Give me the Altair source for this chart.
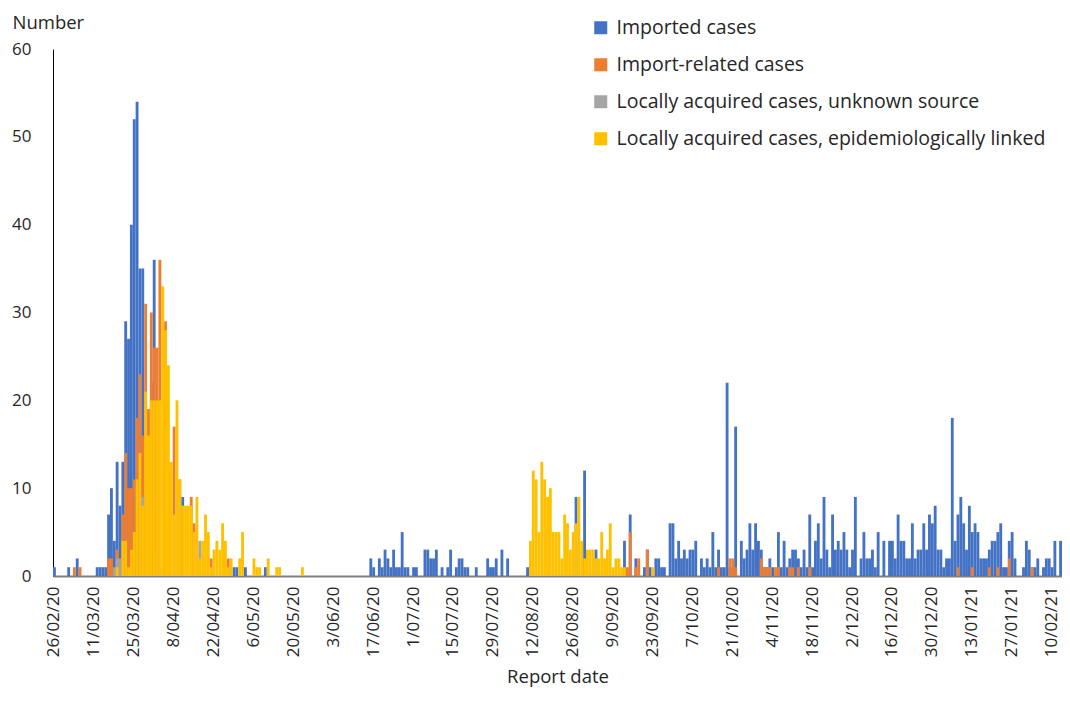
import datetime as dt
import altair as alt
import pandas as pd

# ---------------- data (daily counts, 26/02/20 .. 13/02/21) ----------------
START = dt.date(2020, 2, 26)

SERIES = [
    "Imported cases",
    "Import-related cases",
    "Locally acquired cases, unknown source",
    "Locally acquired cases, epidemiologically linked",
]
COLORS = ["#4472C4", "#ED7D31", "#A5A5A5", "#FFC000"]

TICK_LABELS = [
    "26/02/20", "11/03/20", "25/03/20", "8/04/20", "22/04/20", "6/05/20",
    "20/05/20", "3/06/20", "17/06/20", "1/07/20", "15/07/20", "29/07/20",
    "12/08/20", "26/08/20", "9/09/20", "23/09/20", "7/10/20", "21/10/20",
    "4/11/20", "18/11/20", "2/12/20", "16/12/20", "30/12/20", "13/01/21",
    "27/01/21", "10/02/21",
]

# one row per fortnight (14 days), last row 4 days
IMPORTED = [
    [1, 0, 0, 0, 0, 1, 0, 0, 2, 0, 0, 0, 0, 0],
    [0, 1, 1, 1, 1, 7, 10, 4, 13, 8, 13, 29, 27, 40],
    [52, 54, 35, 35, 0, 0, 22, 36, 0, 0, 0, 0, 0, 0],
    [0, 0, 0, 9, 0, 0, 0, 0, 0, 0, 0, 0, 0, 0],
    [0, 0, 0, 0, 0, 0, 0, 1, 1, 0, 0, 1, 0, 0],
    [0, 0, 0, 0, 1, 0, 0, 0, 0, 0, 0, 0, 0, 0],
    [0, 0, 0, 0, 0, 0, 0, 0, 0, 0, 0, 0, 0, 0],
    [0, 0, 0, 0, 0, 0, 0, 0, 0, 0, 0, 0, 0, 2],
    [1, 0, 2, 1, 3, 2, 1, 3, 1, 1, 5, 1, 1, 0],
    [1, 1, 0, 0, 3, 3, 2, 2, 3, 0, 1, 0, 1, 3],
    [0, 1, 2, 2, 1, 1, 0, 0, 1, 0, 0, 0, 2, 1],
    [1, 2, 0, 3, 0, 2, 0, 0, 0, 0, 0, 0, 1, 0],
    [0, 0, 0, 0, 0, 0, 0, 0, 0, 0, 0, 0, 0, 0],
    [0, 9, 0, 0, 12, 0, 0, 0, 3, 0, 0, 0, 0, 0],
    [0, 0, 0, 0, 4, 0, 7, 0, 2, 0, 0, 1, 3, 1],
    [0, 2, 2, 1, 1, 0, 6, 6, 2, 4, 2, 3, 2, 3],
    [3, 4, 0, 2, 1, 2, 1, 5, 1, 3, 1, 1, 22, 1],
    [1, 17, 0, 4, 2, 3, 6, 3, 6, 4, 3, 1, 1, 2],
    [1, 0, 5, 1, 4, 1, 2, 3, 3, 2, 1, 3, 1, 7],
    [1, 4, 6, 2, 9, 3, 1, 7, 3, 4, 3, 5, 3, 1],
    [3, 9, 0, 2, 5, 2, 2, 3, 1, 5, 0, 4, 0, 4],
    [4, 2, 7, 4, 4, 2, 2, 6, 2, 3, 3, 6, 3, 7],
    [6, 8, 3, 3, 1, 2, 2, 18, 4, 7, 9, 6, 3, 8],
    [5, 6, 5, 2, 2, 2, 3, 4, 4, 5, 6, 1, 1, 4],
    [5, 2, 0, 0, 1, 4, 3, 1, 1, 2, 0, 1, 2, 2],
    [1, 4, 0, 4],
]

IMPORT_RELATED = [
    [0, 0, 0, 0, 0, 0, 0, 1, 0, 1, 0, 0, 0, 0],
    [0, 0, 0, 0, 0, 2, 2, 0, 3, 0, 7, 14, 10, 10],
    [11, 18, 23, 16, 31, 19, 30, 26, 26, 36, 0, 29, 12, 0],
    [17, 0, 11, 0, 0, 0, 9, 6, 0, 0, 0, 0, 0, 2],
    [0, 0, 0, 0, 0, 2, 0, 0, 0, 0, 0, 0, 0, 0],
    [0, 0, 0, 0, 0, 0, 0, 0, 0, 0, 0, 0, 0, 0],
    [0, 0, 0, 0, 0, 0, 0, 0, 0, 0, 0, 0, 0, 0],
    [0, 0, 0, 0, 0, 0, 0, 0, 0, 0, 0, 0, 0, 0],
    [0, 0, 0, 0, 0, 0, 0, 0, 0, 0, 0, 0, 0, 0],
    [0, 0, 0, 0, 0, 0, 0, 0, 0, 0, 0, 0, 0, 0],
    [0, 0, 0, 0, 0, 0, 0, 0, 0, 0, 0, 0, 0, 0],
    [0, 0, 0, 0, 0, 0, 0, 0, 0, 0, 0, 0, 0, 0],
    [0, 0, 0, 0, 0, 0, 0, 0, 0, 0, 0, 0, 0, 0],
    [0, 0, 0, 0, 0, 0, 0, 0, 0, 0, 0, 0, 0, 0],
    [0, 0, 0, 0, 0, 1, 5, 0, 1, 2, 0, 0, 3, 0],
    [0, 0, 0, 0, 0, 0, 0, 0, 0, 0, 0, 0, 0, 0],
    [0, 0, 0, 0, 0, 0, 0, 0, 0, 1, 0, 0, 0, 2],
    [2, 1, 0, 0, 0, 0, 0, 0, 0, 0, 2, 1, 1, 1],
    [0, 1, 1, 0, 0, 0, 1, 1, 0, 1, 0, 0, 0, 1],
    [0, 0, 0, 0, 0, 0, 0, 0, 0, 0, 0, 0, 0, 0],
    [0, 0, 0, 0, 0, 0, 0, 0, 0, 0, 0, 0, 0, 0],
    [0, 0, 0, 0, 0, 0, 0, 0, 0, 0, 0, 0, 0, 0],
    [0, 0, 0, 0, 0, 0, 0, 0, 0, 1, 0, 0, 0, 0],
    [1, 0, 0, 0, 0, 0, 1, 0, 0, 1, 0, 0, 0, 2],
    [0, 0, 0, 0, 0, 0, 0, 1, 0, 0, 0, 0, 0, 0],
    [0, 0, 0, 0],
]

LOCAL_UNKNOWN = [
    [0, 0, 0, 0, 0, 0, 0, 0, 0, 0, 0, 0, 0, 0],
    [0, 0, 0, 0, 0, 0, 0, 1, 2, 2, 0, 0, 0, 0],
    [0, 0, 0, 9, 0, 0, 0, 0, 3, 0, 0, 0, 0, 0],
    [0, 0, 0, 0, 0, 0, 0, 0, 0, 4, 0, 0, 0, 1],
] + [[0] * 14 for _ in range(21)] + [[0, 0, 0, 0]]

LOCAL_LINKED = [
    [0, 0, 0, 0, 0, 0, 0, 0, 0, 0, 0, 0, 0, 0],
    [0, 0, 0, 0, 0, 0, 0, 0, 1, 0, 4, 4, 1, 3],
    [5, 11, 14, 8, 21, 16, 20, 20, 20, 20, 33, 28, 24, 13],
    [7, 20, 11, 8, 8, 8, 8, 5, 9, 2, 4, 7, 5, 1],
    [3, 4, 3, 6, 4, 1, 2, 0, 0, 2, 5, 0, 0, 0],
    [2, 1, 1, 0, 0, 2, 0, 0, 1, 1, 0, 0, 0, 0],
    [0, 0, 0, 1, 0, 0, 0, 0, 0, 0, 0, 0, 0, 0],
    [0, 0, 0, 0, 0, 0, 0, 0, 0, 0, 0, 0, 0, 0],
    [0, 0, 0, 0, 0, 0, 0, 0, 0, 0, 0, 0, 0, 0],
    [0, 0, 0, 0, 0, 0, 0, 0, 0, 0, 0, 0, 0, 0],
    [0, 0, 0, 0, 0, 0, 0, 0, 0, 0, 0, 0, 0, 0],
    [0, 0, 0, 0, 0, 0, 0, 0, 0, 0, 0, 0, 0, 4],
    [12, 11, 5, 13, 11, 9, 10, 5, 5, 5, 2, 7, 6, 3],
    [5, 6, 9, 4, 2, 3, 3, 3, 2, 2, 5, 2, 3, 6],
    [1, 2, 2, 1, 1, 0, 0, 0, 0, 0, 0, 0, 0, 0],
    [1, 0, 0, 0, 0, 0, 0, 0, 0, 0, 0, 0, 0, 0],
] + [[0] * 14 for _ in range(9)] + [[0, 0, 0, 0]]

# ---------------- build table ----------------
def flat(rows):
    return [v for r in rows for v in r]

series_values = [flat(IMPORTED), flat(IMPORT_RELATED), flat(LOCAL_UNKNOWN), flat(LOCAL_LINKED)]
n_days = len(series_values[0])
dates = [START + dt.timedelta(days=i) for i in range(n_days)]
day_labels = [f"{d.day}/{d.month:02d}/{d.year % 100:02d}" for d in dates]

rows = []
for k, (name, vals) in enumerate(zip(SERIES, series_values)):
    for lab, v in zip(day_labels, vals):
        if v > 0:
            rows.append({"date": lab, "value": v, "series": name, "layer": k})
df = pd.DataFrame(rows)

FONT = "Open Sans"
TXT = "#262626"

chart = (
    alt.Chart(df)
    .mark_bar(strokeWidth=0)
    .encode(
        x=alt.X(
            "date:N",
            sort=day_labels,
            scale=alt.Scale(domain=day_labels, paddingInner=0, paddingOuter=0),
            axis=alt.Axis(
                values=TICK_LABELS,
                labelAngle=-90,
                labelAlign="right",
                labelBaseline="middle",
                labelPadding=10,
                ticks=False,
                domainColor="#7F7F7F",
                domainWidth=2,
                labelFontSize=17,
                labelColor=TXT,
                labelFont=FONT,
                title="Report date",
                titleFont=FONT,
                titleFontSize=18.5,
                titleFontWeight="normal",
                titleColor=TXT,
                titleY=100,
                titleBaseline="middle",
                grid=False,
            ),
        ),
        y=alt.Y(
            "value:Q",
            stack=None,
            scale=alt.Scale(domain=[0, 60]),
            axis=alt.Axis(
                values=[0, 10, 20, 30, 40, 50, 60],
                ticks=False,
                grid=False,
                domainColor="#000000",
                domainWidth=1,
                labelPadding=22,
                labelFontSize=17,
                labelFont=FONT,
                labelColor=TXT,
                title="Number",
                titleAngle=0,
                titleAlign="left",
                titleBaseline="middle",
                titleX=-41,
                titleY=-27,
                titleFont=FONT,
                titleFontSize=18.5,
                titleFontWeight="normal",
                titleColor=TXT,
            ),
        ),
        color=alt.Color(
            "series:N",
            scale=alt.Scale(domain=SERIES, range=COLORS),
            legend=alt.Legend(
                title=None,
                orient="none",
                legendX=538,
                legendY=-31,
                symbolType="square",
                symbolSize=169,
                symbolStrokeWidth=0,
                labelFont=FONT,
                labelFontSize=19.5,
                labelColor=TXT,
                labelOffset=6,
                rowPadding=16,
                padding=0,
                labelLimit=600,
            ),
        ),
        order=alt.Order("layer:Q"),
    )
    .properties(
        width=1009,
        height=527,
        autosize=alt.AutoSizeParams(type="none"),
        padding={"left": 45, "top": 41, "right": 0, "bottom": 117},
    )
    .configure_view(stroke=None)
)

chart.save("out.html", embed_options={"renderer": "svg", "actions": False})
